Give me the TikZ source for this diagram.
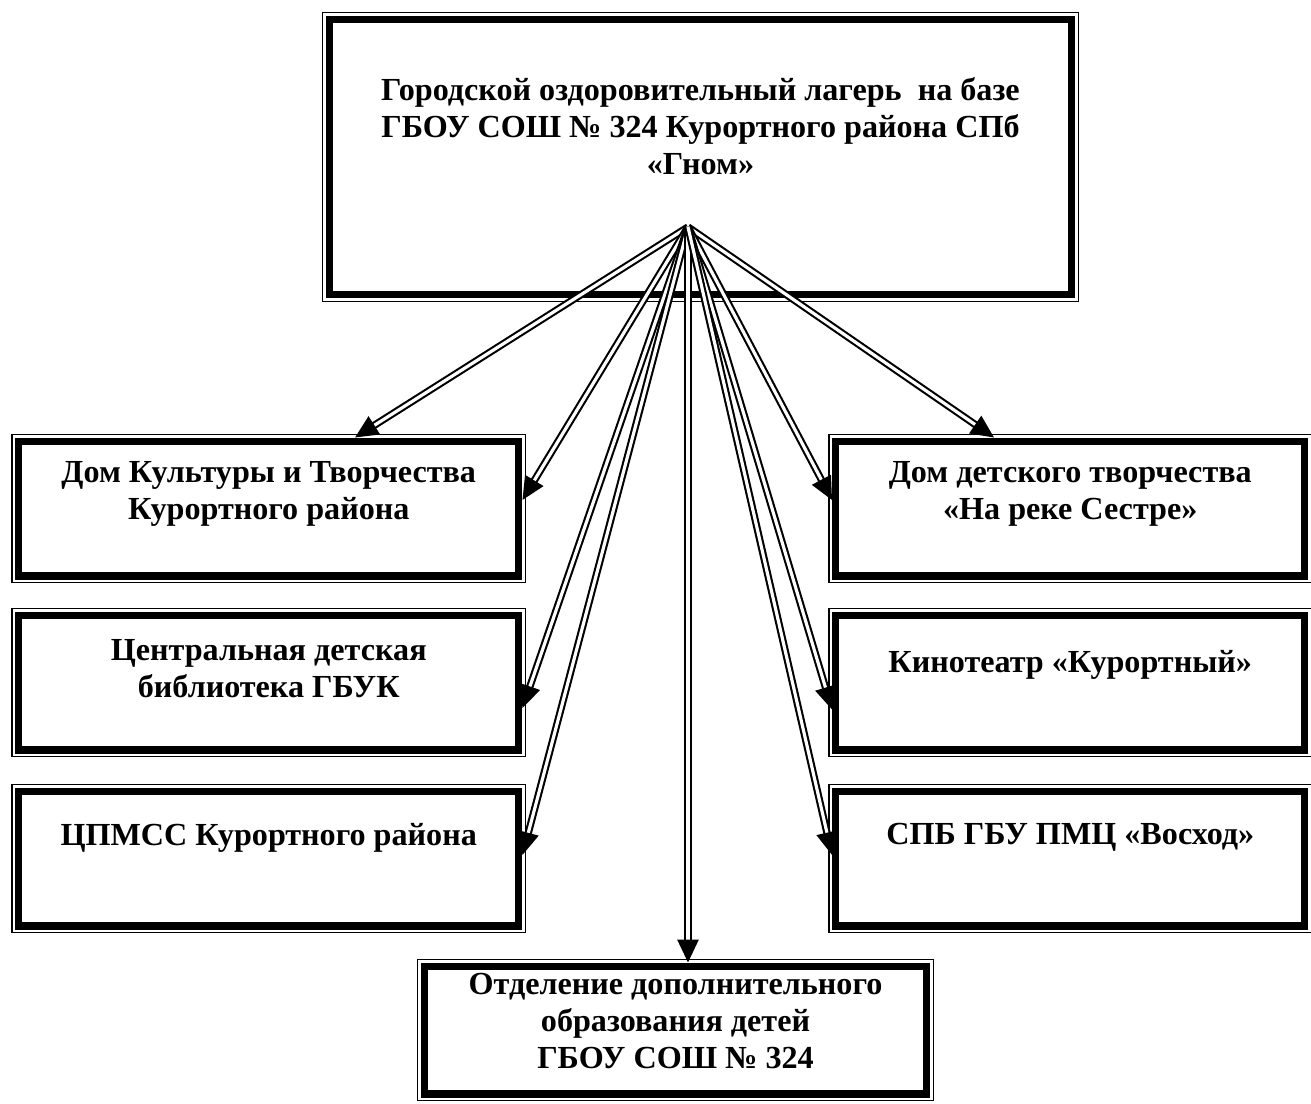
\documentclass[tikz,border=0pt]{standalone}
\usepackage{fontspec}
\setmainfont{Liberation Serif}
\usetikzlibrary{calc,arrows.meta}

\tikzset{
  org/.style={draw, line width=4pt, outer sep=2pt, inner sep=0pt},
  frame/.style={line width=0.8pt},
  txt/.style={align=center, font=\fontsize{18.3}{21}\selectfont\bfseries},
  link/.style={double, double distance=1.8pt, line width=1.2pt, -{Triangle[length=13pt,width=12pt]}},
}

\begin{document}
\begin{tikzpicture}[x=0.02cm, y=-0.02cm]
    \useasboundingbox (0,0) rectangle (1311,1103);
    % boxes
    \node[org, minimum width=14.86cm, minimum height=5.52cm] (gnom) at (700.5,157) {};
    \node[org, minimum width=10.01cm, minimum height=2.7cm] (dk) at (268.75,508.5) {};
    \node[org, minimum width=10.01cm, minimum height=2.7cm] (bib) at (268.75,682.5) {};
    \node[org, minimum width=10.01cm, minimum height=2.7cm] (cp) at (268.75,858.5) {};
    \node[org, minimum width=9.39cm, minimum height=2.7cm] (ddt) at (1070.25,508.5) {};
    \node[org, minimum width=9.39cm, minimum height=2.7cm] (kino) at (1070.25,682.5) {};
    \node[org, minimum width=9.39cm, minimum height=2.7cm] (vos) at (1070.25,858.5) {};
    \node[org, minimum width=10.06cm, minimum height=2.56cm] (odo) at (675.5,1030) {};
    \foreach \b in {gnom,dk,bib,cp,ddt,kino,vos,odo}
        \draw[frame] ([shift={(-3,-3)}]\b.north west) rectangle ([shift={(3,3)}]\b.south east);
    % texts
    \node[txt] (gnomt) at ([yshift=17.4pt]gnom.center) {Городской оздоровительный лагерь\ \ на базе\\ГБОУ СОШ № 324 Курортного района СПб\\«Гном»};
    \node[txt] (dkt) at ([yshift=8.5pt]dk.center) {Дом Культуры и Творчества\\Курортного района};
    \node[txt] (bibt) at ([yshift=8pt]bib.center) {Центральная детская\\библиотека ГБУК};
    \node[txt] (cpt) at ([yshift=12pt]cp.center) {ЦПМСС Курортного района};
    \node[txt] (ddtt) at ([yshift=8.5pt]ddt.center) {Дом детского творчества\\«На реке Сестре»};
    \node[txt] (kinot) at ([yshift=10pt]kino.center) {Кинотеатр «Курортный»};
    \node[txt] (vost) at ([yshift=12pt]vos.center) {СПБ ГБУ ПМЦ «Восход»};
    \node[txt] (odot) at ([yshift=5pt]odo.center) {Отделение дополнительного\\образования детей\\ГБОУ СОШ № 324};
    % links
    \coordinate (hub) at (688,227);
    \draw[link] (hub) -- ($(dk.north west)!0.67!(dk.north east)$);
    \draw[link] (hub) -- ($(dk.north east)!0.44!(dk.south east)$);
    \draw[link] (hub) -- ($(bib.north east)!0.68!(bib.south east)$);
    \draw[link] (hub) -- ($(cp.north east)!0.475!(cp.south east)$);
    \draw[link] (hub) -- (hub |- odo.north);
    \draw[link] (hub) -- ($(ddt.north west)!0.34!(ddt.north east)$);
    \draw[link] (hub) -- ($(ddt.north west)!0.44!(ddt.south west)$);
    \draw[link] (hub) -- ($(kino.north west)!0.69!(kino.south west)$);
    \draw[link] (hub) -- ($(vos.north west)!0.475!(vos.south west)$);
\end{tikzpicture}
\end{document}
